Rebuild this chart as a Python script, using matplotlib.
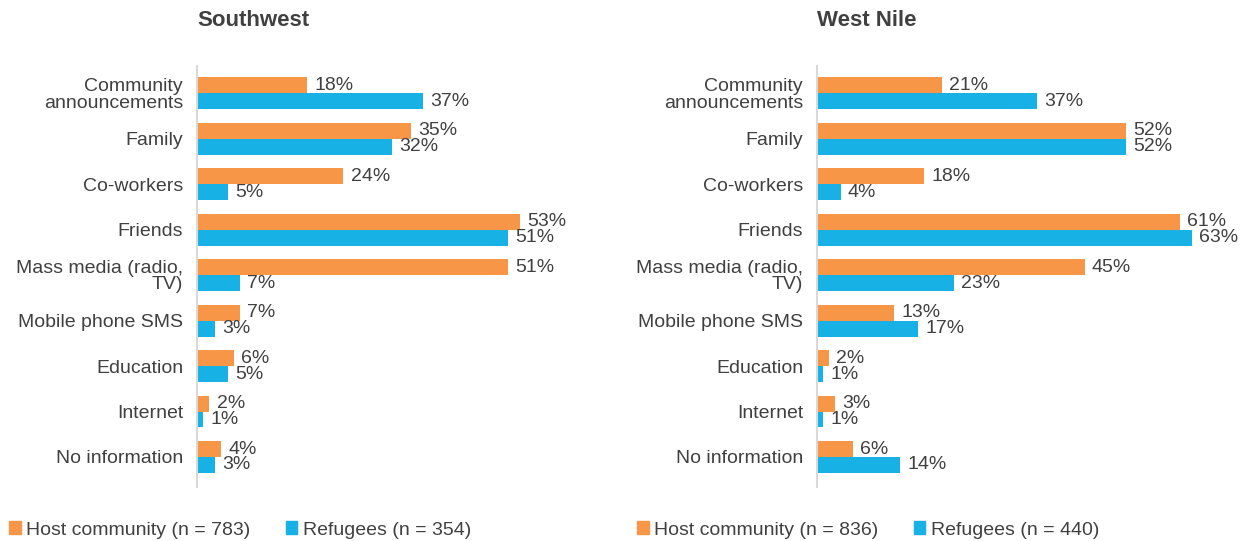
import numpy as np
import matplotlib
matplotlib.use("Agg")
import matplotlib.pyplot as plt
from matplotlib.patches import Patch

plt.rcParams['font.family'] = ['Liberation Sans', 'DejaVu Sans']

categories = ['Community\nannouncements', 'Family', 'Co-workers', 'Friends',
              'Mass media (radio,\nTV)', 'Mobile phone SMS', 'Education',
              'Internet', 'No information']

sw_host = [18, 35, 24, 53, 51, 7, 6, 2, 4]
sw_refugees = [37, 32, 5, 51, 7, 3, 5, 1, 3]
wn_host = [21, 52, 18, 61, 45, 13, 2, 3, 6]
wn_refugees = [37, 52, 4, 63, 23, 17, 1, 1, 14]

panels = [
    ('Southwest', sw_host, sw_refugees, 'Host community (n = 783)', 'Refugees (n = 354)'),
    ('West Nile', wn_host, wn_refugees, 'Host community (n = 836)', 'Refugees (n = 440)'),
]

orange = '#F79646'
blue = '#17B1E6'
text_col = '#404040'
fs = 14

W, H = 1241, 541
fig = plt.figure(figsize=(W / 100, H / 100), dpi=100)

ax_left_px = [197, 817]
px_per_pct = [6.1, 5.95]
ax_top, ax_bot = 66, 487
xmax = 65

y = np.arange(len(categories))
bh = 0.35

for i, (title, host, ref, host_lab, ref_lab) in enumerate(panels):
    x0 = ax_left_px[i]
    ax = fig.add_axes([x0 / W, 1 - ax_bot / H,
                       xmax * px_per_pct[i] / W, (ax_bot - ax_top) / H])
    ax.barh(y - bh / 2, host, height=bh, color=orange)
    ax.barh(y + bh / 2, ref, height=bh, color=blue)
    for yy, v in zip(y, host):
        ax.text(v + 1.2, yy - bh / 2, f'{v}%', va='center', ha='left',
                fontsize=fs, color=text_col)
    for yy, v in zip(y, ref):
        ax.text(v + 1.2, yy + bh / 2, f'{v}%', va='center', ha='left',
                fontsize=fs, color=text_col)

    ax.set_xlim(0, xmax)
    ax.set_ylim(8.66, -0.6)
    ax.set_yticks(y)
    ax.set_yticklabels(categories, fontsize=fs, color=text_col, linespacing=0.95)
    ax.tick_params(axis='y', length=0, pad=10)
    ax.set_xticks([])
    for s in ['top', 'right', 'bottom']:
        ax.spines[s].set_visible(False)
    ax.spines['left'].set_color('#D9D9D9')
    ax.spines['left'].set_linewidth(1.5)

    fig.text(x0 / W, 1 - 21 / H, title, fontsize=16, fontweight='bold',
             color=text_col, ha='left', va='center')

    handles = [Patch(color=orange, label=host_lab), Patch(color=blue, label=ref_lab)]
    leg_x = [5, 633][i]
    fig.legend(handles=handles, loc='center left',
               bbox_to_anchor=(leg_x / W, 1 - 530 / H), ncol=2, frameon=False,
               fontsize=fs, handlelength=0.6, handleheight=0.6,
               handletextpad=0.3, columnspacing=1.8, labelcolor=text_col,
               borderaxespad=0, borderpad=0.2)

fig.savefig('out.png', dpi=100, facecolor='white')
